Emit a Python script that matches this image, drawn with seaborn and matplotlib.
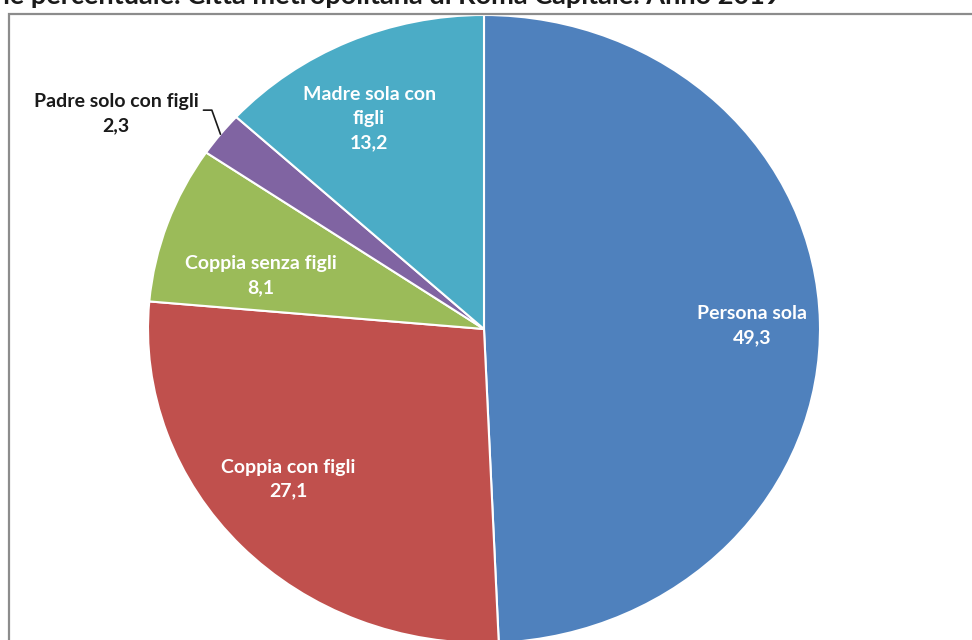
import matplotlib
matplotlib.use("Agg")
import matplotlib.pyplot as plt
import seaborn as sns
import numpy as np
from matplotlib.patches import Rectangle

# === Data ===
categories = ["Persona sola", "Coppia con figli", "Coppia senza figli",
              "Padre solo con figli", "Madre sola con figli"]
shares = [49.3, 27.1, 8.1, 2.3, 13.2]
label_texts = ["Persona sola", "Coppia con figli", "Coppia senza figli",
               "Padre solo con figli", "Madre sola con\nfigli"]
title = ("Famiglie per tipologia. Composizione percentuale. "
         "Città metropolitana di Roma Capitale. Anno 2019")

# === Style ===
sns.set_theme(style="white")
plt.rcParams["font.family"] = ["Lato", "DejaVu Sans"]
colors = sns.color_palette(["#4F81BD", "#C0504D", "#9BBB59", "#8064A2", "#4BACC6"])

# label centres in pie units (x, y) and text colours
label_pos = [(0.798, 0.010), (-0.583, -0.478), (-0.664, 0.169),
             (-1.095, 0.685), (-0.342, 0.670)]
label_col = ["white", "white", "white", "#1a1a1a", "white"]

W, H = 972, 640
fig = plt.figure(figsize=(W / 100, H / 100), dpi=100)
fig.patch.set_facecolor("white")

# pie is slightly elliptical in the reference: 336 px wide radius, 314 px tall
cx, cy, rx, ry = 484, 329, 336, 314
ax = fig.add_axes([(cx - rx) / W, (H - cy - ry) / H, 2 * rx / W, 2 * ry / H])
wedges, _ = ax.pie(shares, colors=colors, startangle=90, counterclock=False,
                   wedgeprops=dict(edgecolor="white", linewidth=1.5))
ax.set_aspect("auto")
ax.set_xlim(-1, 1)
ax.set_ylim(-1, 1)
ax.axis("off")

# === Labels ===
for i, (txt, val) in enumerate(zip(label_texts, shares)):
    x, y = label_pos[i]
    lab = f"{txt}\n{val:.1f}".replace(".", ",")
    ax.text(x, y, lab, ha="center", va="center", multialignment="center",
            color=label_col[i], fontsize=14, fontweight="bold", linespacing=1.5,
            clip_on=False)

# leader line for the small slice
w = wedges[3]
mid = np.deg2rad((w.theta1 + w.theta2) / 2)
edge = (np.cos(mid), np.sin(mid))
ax.plot([edge[0], -0.81, -0.835], [edge[1], 0.697, 0.697],
        color="#1a1a1a", linewidth=1.2, clip_on=False)

# === Chart frame and title (cut at the top, as in the reference) ===
fig.add_artist(Rectangle((9 / W, -0.5), 2, 1.5 - 14 / H, transform=fig.transFigure,
                         fill=False, edgecolor="#8c8c8c", linewidth=1.6))
fig.text(781 / W, 1 - 4 / H, title, ha="right", va="baseline",
         fontsize=19.5, fontweight="bold", color="#1a1a1a")

fig.savefig("out.png", dpi=100)
